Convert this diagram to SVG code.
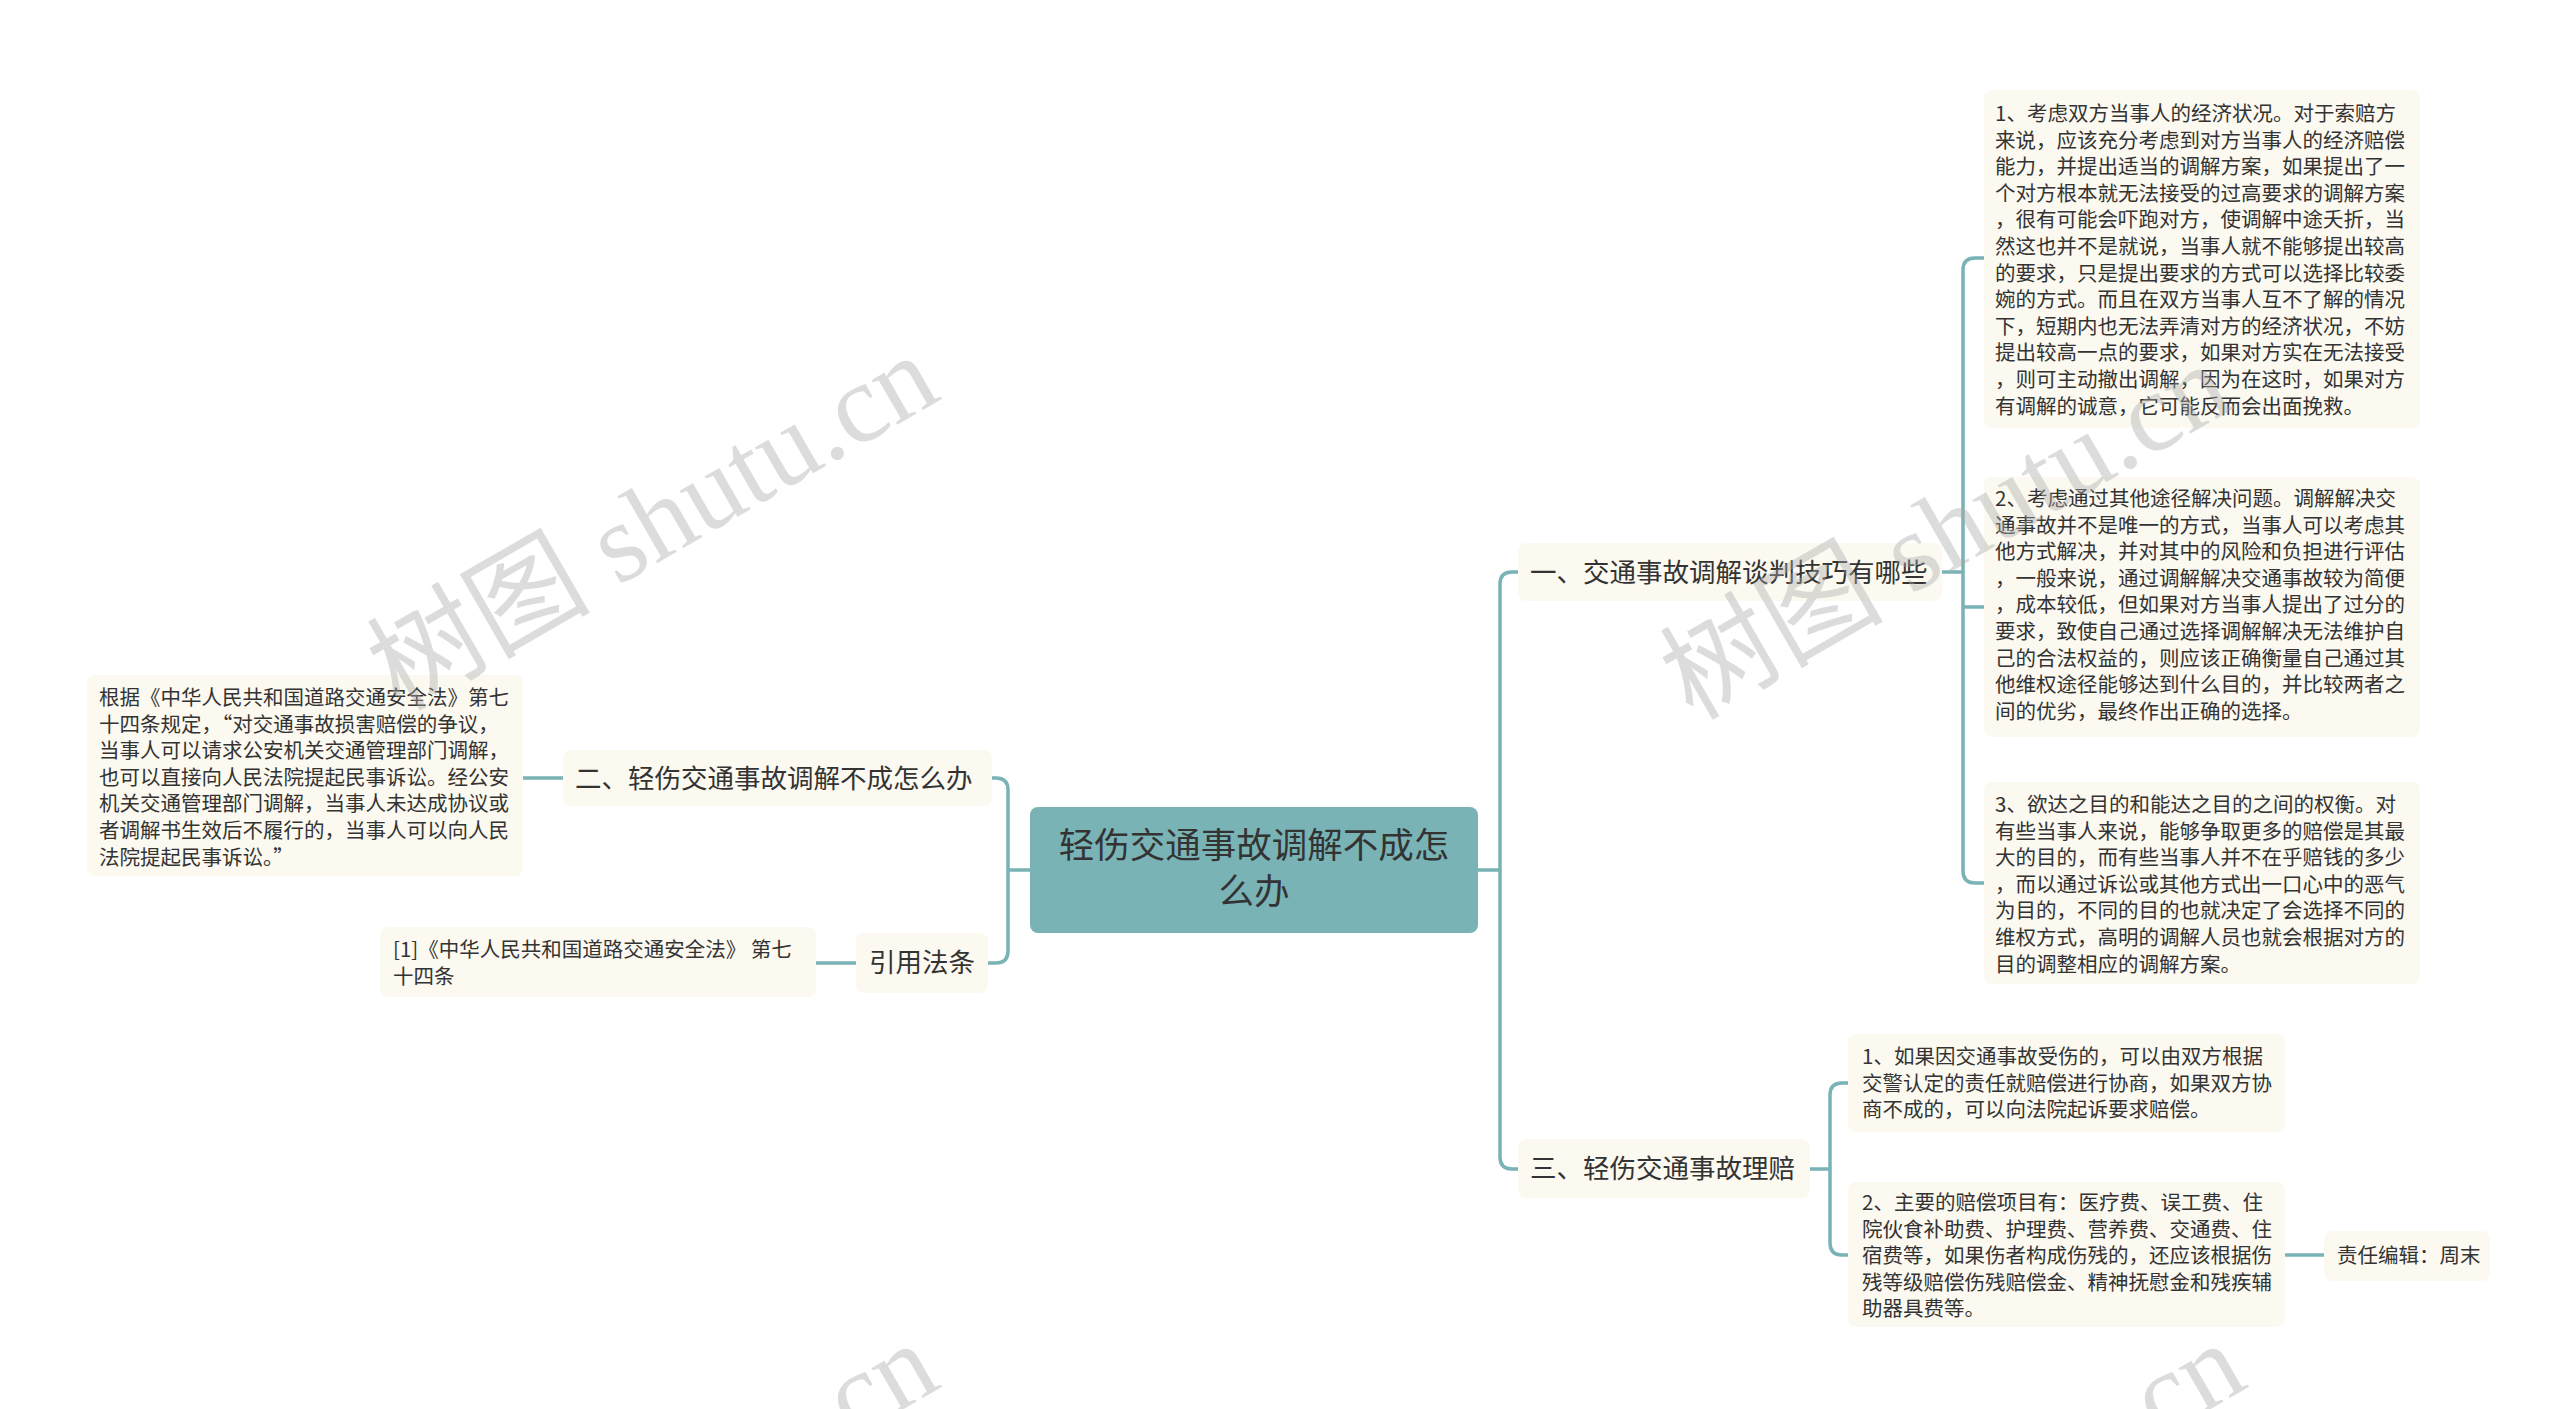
<svg xmlns="http://www.w3.org/2000/svg" width="2560" height="1409" viewBox="0 0 2560 1409">
<style>
text{font-family:"Noto Sans CJK SC","Noto Sans",sans-serif;fill:#333}
.leaf{fill:#fbf9f0}
.lt{font-size:20.5px}
.bt{font-size:26.5px}
.con{fill:none;stroke:#7ab3b5;stroke-width:3.5}
.wm{font-size:112px;fill:#aaa;opacity:0.4;font-family:"Liberation Serif","Noto Sans CJK SC",serif}
</style>
<rect width="2560" height="1409" fill="#fff"/>
<g id="connectors">
<path class="con" d="M1478 870H1500M1518 572H1512Q1500 572 1500 584V1157Q1500 1169 1512 1169H1518"/>
<path class="con" d="M1942 572H1963M1984 258H1975Q1963 258 1963 270V871Q1963 883 1975 883H1984M1963 607H1984"/>
<path class="con" d="M1810 1169H1830M1848 1083H1842Q1830 1083 1830 1095V1243Q1830 1255 1842 1255H1848"/>
<path class="con" d="M2285 1255H2324"/>
<path class="con" d="M1030 870H1008M992 778H996Q1008 778 1008 790V951Q1008 963 996 963H988"/>
<path class="con" d="M563 778H523M856 963H816"/>
</g>
<g id="center"><rect x="1030" y="807" width="448" height="126" rx="8" fill="#79b3b5"/>
<text x="1254" y="858" text-anchor="middle" style="font-size:35.5px">轻伤交通事故调解不成怎</text>
<text x="1254" y="904" text-anchor="middle" style="font-size:35.5px">么办</text></g>
<g id="b1"><rect class="leaf" x="1518" y="543" width="424" height="58" rx="8"/><text class="bt" x="1530" y="582">一、交通事故调解谈判技巧有哪些</text></g>
<g id="b3"><rect class="leaf" x="1518" y="1139" width="292" height="59" rx="8"/><text class="bt" x="1530" y="1178">三、轻伤交通事故理赔</text></g>
<g id="b2"><rect class="leaf" x="563" y="750" width="429" height="56" rx="8"/><text class="bt" x="575" y="788">二、轻伤交通事故调解不成怎么办</text></g>
<g id="b4"><rect class="leaf" x="856" y="933" width="132" height="60" rx="8"/><text class="bt" x="869" y="972">引用法条</text></g>
<g id="l1"><rect class="leaf" x="1984" y="90" width="436" height="338" rx="8"/>
<text class="lt" x="1995" y="121">
<tspan x="1995" dy="0">1、考虑双方当事人的经济状况。对于索赔方</tspan>
<tspan x="1995" dy="26.6">来说，应该充分考虑到对方当事人的经济赔偿</tspan>
<tspan x="1995" dy="26.6">能力，并提出适当的调解方案，如果提出了一</tspan>
<tspan x="1995" dy="26.6">个对方根本就无法接受的过高要求的调解方案</tspan>
<tspan x="1995" dy="26.6">，很有可能会吓跑对方，使调解中途夭折，当</tspan>
<tspan x="1995" dy="26.6">然这也并不是就说，当事人就不能够提出较高</tspan>
<tspan x="1995" dy="26.6">的要求，只是提出要求的方式可以选择比较委</tspan>
<tspan x="1995" dy="26.6">婉的方式。而且在双方当事人互不了解的情况</tspan>
<tspan x="1995" dy="26.6">下，短期内也无法弄清对方的经济状况，不妨</tspan>
<tspan x="1995" dy="26.6">提出较高一点的要求，如果对方实在无法接受</tspan>
<tspan x="1995" dy="26.6">，则可主动撤出调解，因为在这时，如果对方</tspan>
<tspan x="1995" dy="26.6">有调解的诚意，它可能反而会出面挽救。</tspan></text></g>
<g id="l2"><rect class="leaf" x="1984" y="477" width="436" height="260" rx="8"/>
<text class="lt" x="1995" y="506">
<tspan x="1995" dy="0">2、考虑通过其他途径解决问题。调解解决交</tspan>
<tspan x="1995" dy="26.6">通事故并不是唯一的方式，当事人可以考虑其</tspan>
<tspan x="1995" dy="26.6">他方式解决，并对其中的风险和负担进行评估</tspan>
<tspan x="1995" dy="26.6">，一般来说，通过调解解决交通事故较为简便</tspan>
<tspan x="1995" dy="26.6">，成本较低，但如果对方当事人提出了过分的</tspan>
<tspan x="1995" dy="26.6">要求，致使自己通过选择调解解决无法维护自</tspan>
<tspan x="1995" dy="26.6">己的合法权益的，则应该正确衡量自己通过其</tspan>
<tspan x="1995" dy="26.6">他维权途径能够达到什么目的，并比较两者之</tspan>
<tspan x="1995" dy="26.6">间的优劣，最终作出正确的选择。</tspan></text></g>
<g id="l3"><rect class="leaf" x="1984" y="782" width="436" height="202" rx="8"/>
<text class="lt" x="1995" y="812">
<tspan x="1995" dy="0">3、欲达之目的和能达之目的之间的权衡。对</tspan>
<tspan x="1995" dy="26.6">有些当事人来说，能够争取更多的赔偿是其最</tspan>
<tspan x="1995" dy="26.6">大的目的，而有些当事人并不在乎赔钱的多少</tspan>
<tspan x="1995" dy="26.6">，而以通过诉讼或其他方式出一口心中的恶气</tspan>
<tspan x="1995" dy="26.6">为目的，不同的目的也就决定了会选择不同的</tspan>
<tspan x="1995" dy="26.6">维权方式，高明的调解人员也就会根据对方的</tspan>
<tspan x="1995" dy="26.6">目的调整相应的调解方案。</tspan></text></g>
<g id="l4"><rect class="leaf" x="1848" y="1034" width="437" height="98" rx="8"/>
<text class="lt" x="1862" y="1064">
<tspan x="1862" dy="0">1、如果因交通事故受伤的，可以由双方根据</tspan>
<tspan x="1862" dy="26.6">交警认定的责任就赔偿进行协商，如果双方协</tspan>
<tspan x="1862" dy="26.6">商不成的，可以向法院起诉要求赔偿。</tspan></text></g>
<g id="l5"><rect class="leaf" x="1848" y="1182" width="437" height="145" rx="8"/>
<text class="lt" x="1862" y="1210">
<tspan x="1862" dy="0">2、主要的赔偿项目有：医疗费、误工费、住</tspan>
<tspan x="1862" dy="26.6">院伙食补助费、护理费、营养费、交通费、住</tspan>
<tspan x="1862" dy="26.6">宿费等，如果伤者构成伤残的，还应该根据伤</tspan>
<tspan x="1862" dy="26.6">残等级赔偿伤残赔偿金、精神抚慰金和残疾辅</tspan>
<tspan x="1862" dy="26.6">助器具费等。</tspan></text></g>
<g id="l6"><rect class="leaf" x="2324" y="1231" width="166" height="50" rx="8"/><text class="lt" x="2337" y="1263">责任编辑：周末</text></g>
<g id="l7"><rect class="leaf" x="87" y="675" width="436" height="201" rx="8"/>
<text class="lt" x="99" y="705">
<tspan x="99" dy="0">根据《中华人民共和国道路交通安全法》第七</tspan>
<tspan x="99" dy="26.6">十四条规定，“对交通事故损害赔偿的争议，</tspan>
<tspan x="99" dy="26.6">当事人可以请求公安机关交通管理部门调解，</tspan>
<tspan x="99" dy="26.6">也可以直接向人民法院提起民事诉讼。经公安</tspan>
<tspan x="99" dy="26.6">机关交通管理部门调解，当事人未达成协议或</tspan>
<tspan x="99" dy="26.6">者调解书生效后不履行的，当事人可以向人民</tspan>
<tspan x="99" dy="26.6">法院提起民事诉讼。”</tspan></text></g>
<g id="l8"><rect class="leaf" x="380" y="927" width="436" height="70" rx="8"/>
<text class="lt" x="393" y="957">
<tspan x="393" dy="0">[1]《中华人民共和国道路交通安全法》 第七</tspan>
<tspan x="393" dy="26.6">十四条</tspan></text></g>
<g id="watermarks">
<text class="wm" x="653" y="560" text-anchor="middle" transform="rotate(-30 653 523)">树图 shutu.cn</text>
<text class="wm" x="1946" y="569" text-anchor="middle" transform="rotate(-30 1946 532)">树图 shutu.cn</text>
<text class="wm" x="653" y="1548" text-anchor="middle" transform="rotate(-30 653 1511)">树图 shutu.cn</text>
<text class="wm" x="1960" y="1548" text-anchor="middle" transform="rotate(-30 1960 1511)">树图 shutu.cn</text>
</g>
</svg>
